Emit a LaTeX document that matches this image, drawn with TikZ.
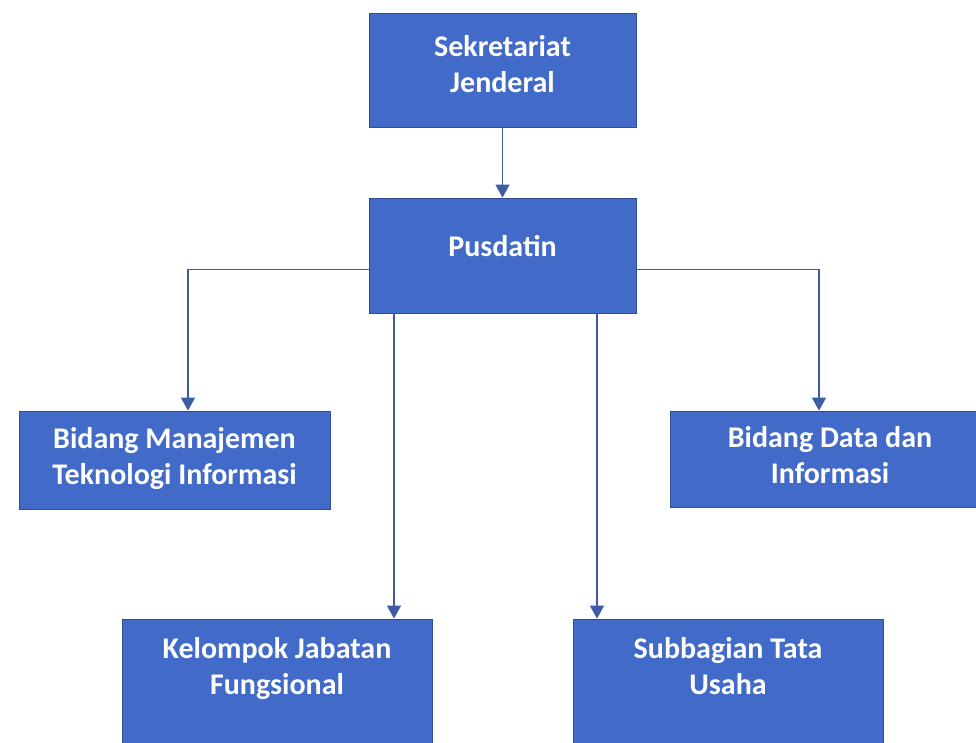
\documentclass[tikz,border=0pt]{standalone}
\usepackage{fontspec}
\setmainfont{Carlito}
\usetikzlibrary{arrows.meta}
\definecolor{boxblue}{RGB}{66,106,200}
\definecolor{boxline}{RGB}{48,80,150}
\definecolor{linkblue}{RGB}{62,92,165}
\begin{document}
\begin{tikzpicture}[x=1pt, y=-1pt,
    unit/.style={draw=boxline, line width=0.8pt, fill=boxblue, text=white,
                 font=\fontsize{30}{36}\selectfont\bfseries, align=center,
                 inner sep=0pt},
    link/.style={draw=linkblue, line width=1.2pt,
                 -{Triangle[length=13pt, width=14pt]}}]
    \useasboundingbox (0, 0) rectangle (976, 743);
    \clip (0, 0) rectangle (976, 743);
    \fill[white] (0, 0) rectangle (976, 743);
    \node[unit, minimum width=267pt, minimum height=114pt, text depth=12pt]
      (sekjen) at (502.5, 70) {Sekretariat\\Jenderal};
    \node[unit, minimum width=267pt, minimum height=115pt, text depth=20pt]
      (pusdatin) at (502.5, 255.5) {Pusdatin};
    \node[unit, minimum width=311pt, minimum height=98pt, text depth=8pt]
      (bmti) at (174.5, 460) {Bidang Manajemen\\Teknologi Informasi};
    \node[unit, minimum width=320pt, minimum height=96pt, text depth=8pt]
      (bdi) at (830, 459) {Bidang Data dan\\Informasi};
    \node[unit, minimum width=310pt, minimum height=131pt, text depth=38pt]
      (kjf) at (277, 684.5) {Kelompok Jabatan\\Fungsional};
    \node[unit, minimum width=310pt, minimum height=131pt, text depth=38pt]
      (sbtu) at (728, 684.5) {Subbagian Tata\\Usaha};
    % connectors
    \coordinate (pl) at ([yshift=-14pt]pusdatin.west);
    \coordinate (pr) at ([yshift=-14pt]pusdatin.east);
    \coordinate (pa) at ([xshift=-108.5pt]pusdatin.south);
    \coordinate (pb) at ([xshift=94.5pt]pusdatin.south);
    \draw[link] (sekjen) -- (pusdatin);
    \draw[link] (pl) -| ([xshift=13.5pt]bmti.north);
    \draw[link] (pr) -| ([xshift=-11pt]bdi.north);
    \draw[link] (pa) -- (pa |- kjf.north);
    \draw[link] (pb) -- (pb |- sbtu.north);
\end{tikzpicture}
\end{document}
